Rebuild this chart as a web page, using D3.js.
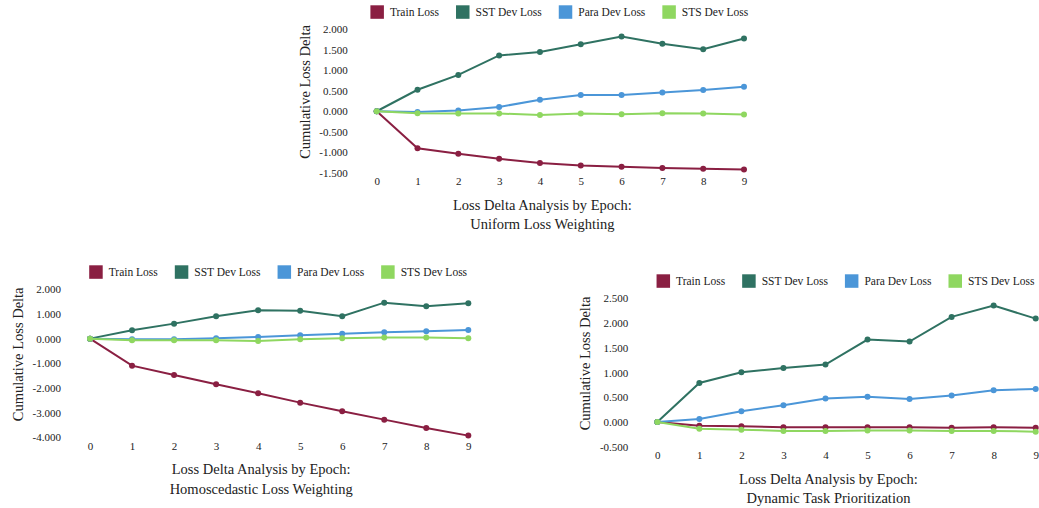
<!DOCTYPE html>
<html>
<head>
<meta charset="utf-8">
<script src="https://cdn.jsdelivr.net/npm/d3@7"></script>
<style>
  body { margin: 0; background: #fff; }
  text { font-family: "Liberation Serif", "DejaVu Serif", serif; fill: #222; }
</style>
</head>
<body>
<svg id="chart"></svg>
<script>
const epochs = [0, 1, 2, 3, 4, 5, 6, 7, 8, 9];
const seriesNames = ['Train Loss', 'SST Dev Loss', 'Para Dev Loss', 'STS Dev Loss'];
const seriesColors = ['#8a1f42', '#2f7262', '#4b96d8', '#8fd760'];

// Uniform Loss Weighting
const uniformTrain = [0, -0.903, -1.040, -1.161, -1.266, -1.323, -1.355, -1.387, -1.403, -1.419];
const uniformSST = [0, 0.524, 0.887, 1.363, 1.444, 1.637, 1.823, 1.645, 1.516, 1.774];
const uniformPara = [0, -0.016, 0.016, 0.105, 0.282, 0.395, 0.395, 0.460, 0.516, 0.597];
const uniformSTS = [0, -0.048, -0.056, -0.056, -0.089, -0.056, -0.073, -0.048, -0.056, -0.081];
const uniformTicks = [-1.5, -1, -0.5, 0, 0.5, 1, 1.5, 2];

// Homoscedastic Loss Weighting
const homoTrain = [0, -1.095, -1.473, -1.851, -2.216, -2.595, -2.946, -3.284, -3.622, -3.932];
const homoSST = [0, 0.338, 0.608, 0.905, 1.149, 1.135, 0.905, 1.459, 1.311, 1.432];
const homoPara = [0, -0.027, -0.027, 0.014, 0.068, 0.135, 0.203, 0.257, 0.297, 0.351];
const homoSTS = [0, -0.068, -0.068, -0.068, -0.095, -0.027, 0.014, 0.041, 0.041, 0.014];
const homoTicks = [-4, -3, -2, -1, 0, 1, 2];

// Dynamic Task Prioritization
const dtpTrain = [0, -0.074, -0.088, -0.108, -0.108, -0.108, -0.108, -0.115, -0.108, -0.115];
const dtpSST = [0, 0.789, 1.005, 1.092, 1.160, 1.666, 1.625, 2.124, 2.353, 2.090];
const dtpPara = [0, 0.061, 0.216, 0.337, 0.472, 0.512, 0.465, 0.533, 0.641, 0.668];
const dtpSTS = [0, -0.135, -0.155, -0.182, -0.182, -0.175, -0.175, -0.182, -0.182, -0.196];
const dtpTicks = [-0.5, 0, 0.5, 1, 1.5, 2, 2.5];

class LossDeltaChart {

    constructor(_config, _series) {
        this.config = {
            parent: _config.parent,
            left: _config.left,
            right: _config.right,
            top: _config.top,
            bottom: _config.bottom,
            ticks: _config.ticks,
            title: _config.title
        }
        this.series = _series;
        this.initVis();
    }

    initVis() {
        let vis = this;
        let c = vis.config;

        vis.xScale = d3.scaleLinear()
            .domain([0, 9])
            .range([c.left, c.right]);

        vis.yScale = d3.scaleLinear()
            .domain(d3.extent(c.ticks))
            .range([c.bottom, c.top]);

        vis.g = c.parent.append('g');

        vis.yAxis = d3.axisLeft(vis.yScale)
            .tickValues(c.ticks)
            .tickSize(0)
            .tickPadding(29)
            .tickFormat(d => d.toFixed(3));

        vis.xAxis = d3.axisBottom(vis.xScale)
            .tickValues(epochs)
            .tickSize(0)
            .tickPadding(5)
            .tickFormat(d => d);

        vis.renderVis();
    }

    renderVis() {
        let vis = this;
        let c = vis.config;

        vis.g.append('g')
            .attr('transform', `translate(${c.left},0)`)
            .call(vis.yAxis)
            .call(g => g.select('.domain').remove())
            .call(g => g.selectAll('text')
                .attr('font-size', 11)
                .attr('font-family', '"Liberation Serif", serif')
                .attr('fill', '#222'))
            .attr('font-family', null);

        vis.g.append('g')
            .attr('transform', `translate(0,${c.bottom})`)
            .call(vis.xAxis)
            .call(g => g.select('.domain').remove())
            .call(g => g.selectAll('text')
                .attr('font-size', 11)
                .attr('font-family', '"Liberation Serif", serif')
                .attr('fill', '#222'))
            .attr('font-family', null);

        let line = d3.line()
            .x((d, i) => vis.xScale(epochs[i]))
            .y(d => vis.yScale(d));

        vis.series.forEach((vals, k) => {
            vis.g.append('path')
                .attr('d', line(vals))
                .attr('fill', 'none')
                .attr('stroke', seriesColors[k])
                .attr('stroke-width', 2);
            vis.g.selectAll('.pt' + k)
                .data(vals)
                .join('circle')
                .attr('class', 'pt' + k)
                .attr('cx', (d, i) => vis.xScale(epochs[i]))
                .attr('cy', d => vis.yScale(d))
                .attr('r', 3)
                .attr('fill', seriesColors[k]);
        });

        // legend, centered over the plot
        let legend = vis.g.append('g');
        let x = 0;
        seriesNames.forEach((name, k) => {
            let item = legend.append('g').attr('transform', `translate(${x},0)`);
            item.append('rect')
                .attr('x', 0)
                .attr('y', -7)
                .attr('width', 13.5)
                .attr('height', 13.5)
                .attr('fill', seriesColors[k]);
            let t = item.append('text')
                .attr('x', 19.5)
                .attr('dy', '0.35em')
                .attr('font-size', 11.5)
                .text(name);
            x += 19.5 + t.node().getComputedTextLength() + 17;
        });
        let legendWidth = x - 17;
        let cx = (c.left + c.right) / 2;
        legend.attr('transform', `translate(${cx - legendWidth / 2 - 1},${c.top - 17})`);

        // y axis label
        vis.g.append('text')
            .attr('transform', `translate(${c.left - 72},${(c.top + c.bottom) / 2 - 9}) rotate(-90)`)
            .attr('text-anchor', 'middle')
            .attr('dy', '0.35em')
            .attr('font-size', 14.5)
            .text('Cumulative Loss Delta');

        // x axis title, two lines
        ['Loss Delta Analysis by Epoch:', c.title].forEach((s, i) => {
            vis.g.append('text')
                .attr('x', cx - 18)
                .attr('y', c.bottom + 32 + i * 19.5)
                .attr('text-anchor', 'middle')
                .attr('dy', '0.35em')
                .attr('font-size', 14.5)
                .text(s);
        });
    }
}

const svg = d3.select('#chart')
    .attr('width', 1039)
    .attr('height', 508);

new LossDeltaChart({
    parent: svg, left: 376.7, right: 744, top: 29.3, bottom: 172.7,
    ticks: uniformTicks, title: 'Uniform Loss Weighting'
}, [uniformTrain, uniformSST, uniformPara, uniformSTS]);

new LossDeltaChart({
    parent: svg, left: 90, right: 468.3, top: 289.3, bottom: 437.3,
    ticks: homoTicks, title: 'Homoscedastic Loss Weighting'
}, [homoTrain, homoSST, homoPara, homoSTS]);

new LossDeltaChart({
    parent: svg, left: 657.3, right: 1035.7, top: 298.3, bottom: 446.7,
    ticks: dtpTicks, title: 'Dynamic Task Prioritization'
}, [dtpTrain, dtpSST, dtpPara, dtpSTS]);
</script>
</body>
</html>
